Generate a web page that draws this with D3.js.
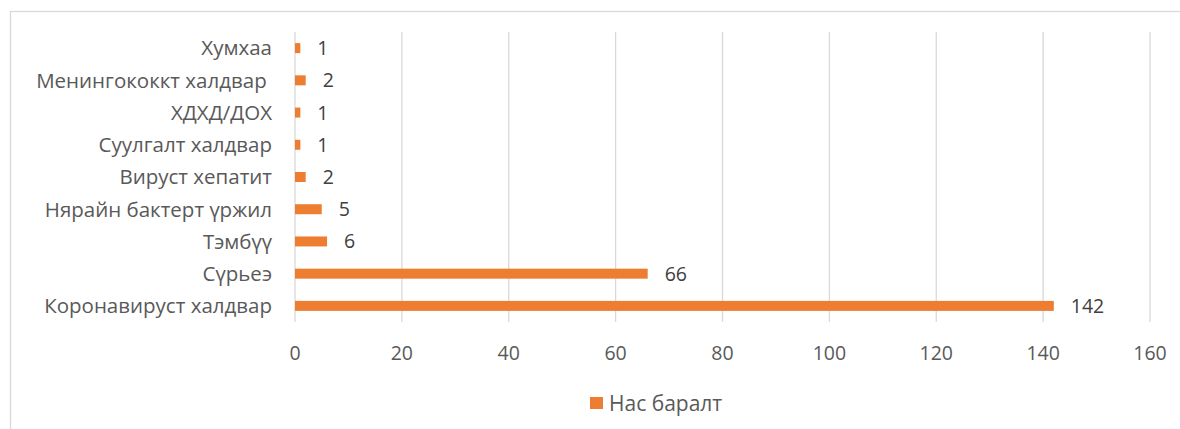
<!DOCTYPE html>
<html><head><meta charset="utf-8">
<script src="https://cdn.jsdelivr.net/npm/d3@7"></script>
<style>body{margin:0;background:#fff}svg{display:block}text{font-family:"Open Sans",sans-serif}</style>
</head><body>
<svg id="c" width="1180" height="429"></svg>
<script>
const categories = ["Хумхаа","Менингококкт халдвар ","ХДХД/ДОХ","Суулгалт халдвар","Вируст хепатит","Нярайн бактерт үржил","Тэмбүү","Сүрьеэ","Коронавируст халдвар"];
const values = [1,2,1,1,2,5,6,66,142];
const xTicks = [0,20,40,60,80,100,120,140,160];
const seriesName = "Нас баралт";

const svg = d3.select("#c");
svg.append("rect").attr("x",10.5).attr("y",11.5).attr("width",1180).attr("height",440)
  .attr("fill","#fff").attr("stroke","#d9d9d9").attr("stroke-width",1.3);

const x = d3.scaleLinear().domain([0,160]).range([295,1150]);
const y = d3.scaleBand().domain(categories).range([32,322]).paddingInner(0.69).paddingOuter(0.345);

const g = svg.append("g");
g.selectAll("line.grid").data(xTicks).join("line").attr("class","grid")
  .attr("x1",d=>x(d)).attr("x2",d=>x(d)).attr("y1",32).attr("y2",322)
  .attr("stroke","#d9d9d9").attr("stroke-width",1.3);

g.selectAll("rect.bar").data(values).join("rect").attr("class","bar")
  .attr("x",x(0)).attr("y",(d,i)=>y(categories[i]))
  .attr("width",d=>x(d)-x(0)).attr("height",y.bandwidth()).attr("fill","#ED7D31");

g.selectAll("text.val").data(values).join("text").attr("class","val")
  .attr("x",d=>x(d)+17).attr("y",(d,i)=>y(categories[i])+y.bandwidth()/2)
  .attr("dy","0.36em").attr("font-size",19.5).attr("fill","#404040").text(d=>d);

g.selectAll("text.cat").data(categories).join("text").attr("class","cat")
  .attr("x",272).attr("y",d=>y(d)+y.bandwidth()/2).attr("dy","0.36em")
  .attr("text-anchor","end").attr("font-size",20.5).attr("fill","#595959")
  .style("white-space","pre").text(d=>d);

g.selectAll("text.tick").data(xTicks).join("text").attr("class","tick")
  .attr("x",d=>x(d)).attr("y",353).attr("dy","0.36em").attr("text-anchor","middle")
  .attr("font-size",19.5).attr("fill","#595959").text(d=>d);

svg.append("rect").attr("x",590).attr("y",397).attr("width",13).attr("height",12).attr("fill","#ED7D31");
svg.append("text").attr("x",609).attr("y",403).attr("dy","0.36em").attr("font-size",21)
  .attr("fill","#595959").text(seriesName);
</script>
</body></html>
